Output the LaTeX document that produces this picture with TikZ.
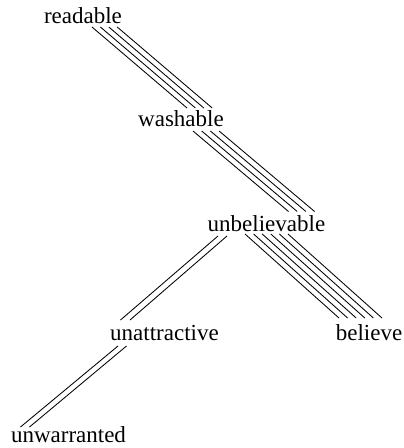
\documentclass[tikz,border=0pt]{standalone}
\usepackage{fontspec}
\setmainfont{Liberation Serif}
\begin{document}
\begin{tikzpicture}[x=1pt,y=-1pt,
  word/.style={inner sep=0pt,anchor=base,font=\fontsize{23}{27}\selectfont},
  strand/.style={line width=0.85pt,black}]
\useasboundingbox (0,0) rectangle (404,448);
\node[word] (readable) at (83,23) {readable};
\node[word] (washable) at (181,126) {washable};
\node[word] (unbelievable) at (266.5,231) {unbelievable};
\node[word] (unattractive) at (164.5,340) {unattractive};
\node[word] (believe) at (369,340) {believe};
\node[word] (unwarranted) at (68.5,442) {unwarranted};
% readable -> washable (4)
\foreach \i in {0,...,3}
  \draw[strand] ([shift={(9+8.4*\i,4)}]readable.base) -- ([shift={(6+8.4*\i,-18)}]washable.base);
% washable -> unbelievable (4)
\foreach \i in {0,...,3}
  \draw[strand] ([shift={(12+8.7*\i,5)}]washable.base) -- ([shift={(22+8.7*\i,-19.5)}]unbelievable.base);
% unbelievable -> believe (6)
\foreach \i in {0,...,5}
  \draw[strand] ([shift={(-21.5+8.6*\i,3)}]unbelievable.base) -- ([shift={(-30+8.6*\i,-22)}]believe.base);
% unbelievable -> unattractive (2)
\foreach \i in {0,1}
  \draw[strand] ([shift={(-48.5+9*\i,5)}]unbelievable.base) -- ([shift={(-44+9.5*\i,-20)}]unattractive.base);
% unattractive -> unwarranted (2)
\foreach \i in {0,1}
  \draw[strand] ([shift={(-46.5+8.5*\i,6)}]unattractive.base) -- ([shift={(-48+9*\i,-15)}]unwarranted.base);
\end{tikzpicture}
\end{document}
